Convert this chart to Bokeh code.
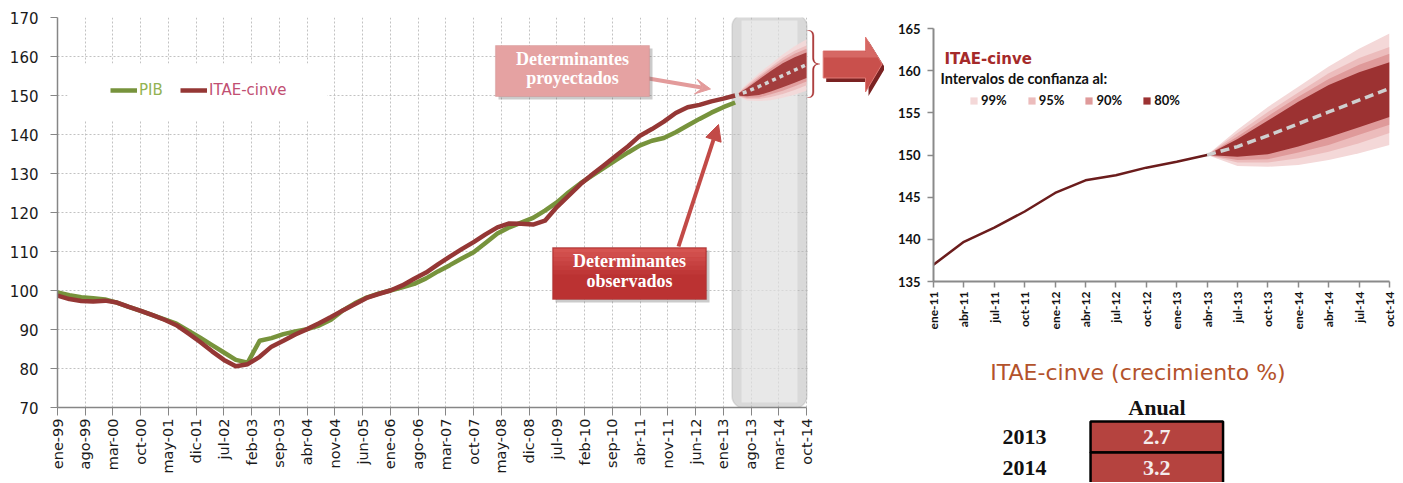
import math
from bokeh.plotting import figure
from bokeh.models import (Range1d, FixedTicker, Legend, LegendItem, BoxAnnotation, Label,
                          Arrow, NormalHead, VeeHead, ColumnDataSource)
from bokeh.layouts import row, column
from bokeh.embed import file_html
from bokeh.resources import INLINE
from bokeh.core.properties import value

# ---------------- data ----------------
# month index: 0 = ene-99
left_tick_months = list(range(0, 190, 7))
left_tick_labels = ["ene-99", "ago-99", "mar-00", "oct-00", "may-01", "dic-01", "jul-02",
                    "feb-03", "sep-03", "abr-04", "nov-04", "jun-05", "ene-06", "ago-06",
                    "mar-07", "oct-07", "may-08", "dic-08", "jul-09", "feb-10", "sep-10",
                    "abr-11", "nov-11", "jun-12", "ene-13", "ago-13", "mar-14", "oct-14"]

quarter_months = list(range(0, 172, 3))
pib = [99.5, 98.8, 98.3, 98.0, 97.7, 96.9, 95.8, 94.8, 93.7, 92.6,
       91.5, 89.7, 87.9, 86.0, 84.1, 82.2, 81.5, 87.1, 87.8, 88.8,
       89.5, 90.1, 91.0, 92.5, 94.9, 96.7, 98.2, 99.2, 100.0, 100.8,
       101.7, 103.1, 104.9, 106.5, 108.2, 109.8, 112.2, 114.6, 116.2, 117.4,
       118.6, 120.5, 122.6, 125.2, 127.5, 129.5, 131.5, 133.5, 135.4, 137.2,
       138.4, 139.1, 140.6, 142.3, 144.0, 145.6, 147.0, 148.2]
itae = [98.7, 97.8, 97.3, 97.2, 97.4, 96.9, 95.8, 94.8, 93.7, 92.5,
        91.1, 89.0, 86.8, 84.4, 82.2, 80.6, 81.1, 83.0, 85.6, 87.1,
        88.7, 90.1, 91.6, 93.2, 94.9, 96.5, 98.1, 99.1, 100.0, 101.3,
        103.0, 104.6, 106.7, 108.7, 110.6, 112.4, 114.4, 116.2, 117.2, 117.1,
        116.9, 117.9, 121.4, 124.3, 127.3, 129.8, 132.2, 134.6, 137.0, 139.7,
        141.4, 143.3, 145.5, 147.0, 147.6, 148.5, 149.2, 150.0]

fan_months = [171, 174, 177, 180, 183, 186, 189]
fan_center = [150.0, 151.0, 152.3, 153.7, 155.1, 156.5, 157.9]
band_labels = ["99%", "95%", "90%", "80%"]
band_upper = {
    "99%": [150.0, 153.0, 155.7, 158.1, 160.5, 162.6, 164.4],
    "95%": [150.0, 152.6, 155.1, 157.4, 159.7, 161.5, 162.8],
    "90%": [150.0, 152.2, 154.6, 156.9, 159.0, 160.7, 162.0],
    "80%": [150.0, 151.9, 154.1, 156.3, 158.3, 159.8, 161.0],
}
band_lower = {
    "99%": [150.0, 148.7, 148.6, 148.8, 149.4, 150.2, 151.2],
    "95%": [150.0, 149.1, 149.1, 149.6, 150.4, 151.4, 152.6],
    "90%": [150.0, 149.4, 149.5, 150.3, 151.2, 152.4, 153.6],
    "80%": [150.0, 149.8, 150.1, 151.0, 152.1, 153.3, 154.5],
}
band_colors = {"99%": "#f4d8d8", "95%": "#ecbcbc", "90%": "#df9a9a", "80%": "#9c3232"}

right_tick_months = list(range(144, 190, 3))
right_tick_labels = ["ene-11", "abr-11", "jul-11", "oct-11", "ene-12", "abr-12", "jul-12",
                     "oct-12", "ene-13", "abr-13", "jul-13", "oct-13", "ene-14", "abr-14",
                     "jul-14", "oct-14"]

years = ["2013", "2014"]
growth = [2.7, 3.2]

# ---------------- left chart ----------------
# page layout: frame x 57..884 (axis drawn only to 806 = oct-14), y 17..407
LW, LH = 884, 482
PXM = (806 - 57) / 189.0           # pixels per month
XEND = 189 + (884 - 806) / PXM
p = figure(width=LW, height=LH, x_range=Range1d(0, XEND), y_range=Range1d(70, 170),
           output_backend="svg", toolbar_location=None,
           min_border_left=57, min_border_right=0, min_border_top=17, min_border_bottom=75)
p.outline_line_color = None
p.background_fill_color = "white"

def lx(px):
    return (px - 57) / PXM

def ly(py):
    return 170 - (py - 17) * 100.0 / 390

xt = FixedTicker(ticks=left_tick_months)
yt = FixedTicker(ticks=list(range(70, 171, 10)))
p.xaxis.ticker = xt
p.yaxis.ticker = yt
p.xgrid.ticker = xt
p.ygrid.ticker = yt
p.xaxis.bounds = (0, 189)
p.xaxis.major_label_overrides = {m: s for m, s in zip(left_tick_months, left_tick_labels)}
p.xaxis.major_label_orientation = math.pi / 2
p.axis.minor_tick_line_color = None
p.axis.major_tick_in = 0
p.xaxis.major_tick_out = 8
p.yaxis.major_tick_out = 7
p.xaxis.major_label_standoff = 3
p.yaxis.major_label_standoff = 12
p.axis.axis_line_color = "#868686"
p.axis.axis_line_width = 1.5
p.axis.major_tick_line_color = "#868686"
p.axis.major_label_text_font = "DejaVu Sans"
p.xaxis.major_label_text_font_size = "14.5px"
p.yaxis.major_label_text_font_size = "15px"
p.axis.major_label_text_color = "#1a1a1a"
p.grid.grid_line_color = "#c2c2c2"
p.grid.grid_line_dash = "2 2"
p.grid.grid_line_width = 1

# hide grid to the right of the axis end
p.add_layout(BoxAnnotation(left=lx(807.5), fill_color="white", fill_alpha=1, line_alpha=0,
                           level="underlay"))

# glassy projection overlay
p.add_layout(BoxAnnotation(left=lx(731.5), right=lx(806.5), top=ly(14), bottom=ly(407.5),
                           fill_color="#bababa", fill_alpha=0.55, line_color="#a4a4a4",
                           line_width=1.5, border_radius=12, level="underlay"))
p.add_layout(BoxAnnotation(left=lx(741), right=lx(797), top=ly(20), bottom=ly(402),
                           fill_color="#ffffff", fill_alpha=0.4, line_alpha=0,
                           level="underlay"))

r_pib = p.line(quarter_months, pib, line_color="#77933c", line_width=4.5, line_join="round")
r_itae = p.line(quarter_months, itae, line_color="#953735", line_width=4.5, line_join="round")

for b in band_labels:
    p.varea(x=fan_months, y1=band_lower[b], y2=band_upper[b], fill_color=band_colors[b],
            fill_alpha=0.9)
p.line(fan_months, fan_center, line_color="#d4d4d4", line_width=3.5, line_dash="4 4")

# legend area (white)
p.add_layout(BoxAnnotation(left=lx(67), right=lx(327), top=ly(63), bottom=ly(120),
                           fill_color="white", fill_alpha=1, line_alpha=0))
leg_common = dict(orientation="horizontal", background_fill_alpha=0, border_line_alpha=0,
                  padding=0, margin=0, glyph_width=27, glyph_height=20, label_height=20,
                  label_standoff=2, label_text_font="DejaVu Sans", label_text_font_size="15px")
p.add_layout(Legend(items=[LegendItem(label="PIB", renderers=[r_pib])], location=(53, 307),
                    label_text_color="#93b352", **leg_common))
p.add_layout(Legend(items=[LegendItem(label="ITAE-cinve", renderers=[r_itae])], location=(123, 307),
                    label_text_color="#c14f72", **leg_common))

# arrows
p.add_layout(Arrow(end=VeeHead(size=15, fill_color="#e39b9b", line_color="#e39b9b"),
                   x_start=lx(648), y_start=ly(78), x_end=lx(710), y_end=ly(88.5),
                   line_color="#e39b9b", line_width=4))
p.add_layout(Arrow(end=NormalHead(size=16, fill_color="#c24a47", line_color="#c24a47"),
                   x_start=lx(678), y_start=ly(246), x_end=lx(718), y_end=ly(124),
                   line_color="#c24a47", line_width=4))

# annotation boxes
def add_box(x0, y0, x1, y1, fill, edge, hi=None):
    p.add_layout(BoxAnnotation(left=lx(x0 + 3), right=lx(x1 + 3), top=ly(y0 + 3), bottom=ly(y1 + 3),
                               fill_color="#6a6a6a", fill_alpha=0.35, line_alpha=0))
    p.add_layout(BoxAnnotation(left=lx(x0), right=lx(x1), top=ly(y0), bottom=ly(y1),
                               fill_color=fill, fill_alpha=1, line_color=edge, line_width=1.2))
    if hi:
        n = 6
        h = (y1 - y0) / 2.0 / n
        for i in range(n):
            p.add_layout(BoxAnnotation(left=lx(x0 + 1), right=lx(x1 - 1), top=ly(y0 + 1 + i * h),
                                       bottom=ly(y0 + 1 + (i + 1) * h), fill_color=hi,
                                       fill_alpha=0.6 * (1 - i / n), line_alpha=0))

add_box(495, 45, 649, 96, "#e5a2a2", "#c47a7a")
add_box(552, 247, 706, 299, "#bb3232", "#8e2222", hi="#e66a66")

def add_text(x, y, s):
    p.add_layout(Label(x=lx(x), y=ly(y), text=s, text_align="center", text_baseline="middle",
                       text_font="Liberation Serif", text_font_style="bold",
                       text_font_size="18px", text_color="white"))

add_text(572, 58.5, "Determinantes")
add_text(572, 77.5, "proyectados")
add_text(629, 260.5, "Determinantes")
add_text(629, 280, "observados")

# brace (thin filled outline)
def qbez(a, c, b, n=8):
    pts = []
    for i in range(n + 1):
        t = i / n
        pts.append(((1 - t) ** 2 * a[0] + 2 * (1 - t) * t * c[0] + t * t * b[0],
                    (1 - t) ** 2 * a[1] + 2 * (1 - t) * t * c[1] + t * t * b[1]))
    return pts

path = (qbez((807, 30), (812, 30), (812, 36)) + [(812, 57)] +
        qbez((812, 57), (812, 63.5), (818, 63.5)) +
        qbez((818, 63.5), (812, 63.5), (812, 70)) + [(812, 91)] +
        qbez((812, 91), (812, 97), (807, 97)))
outer = [(x + 1.4, y) for x, y in path]
poly = path + outer[::-1]
p.patch([lx(x) for x, _ in poly], [ly(y) for _, y in poly], fill_color="#a83232",
        line_color="#a83232", line_width=0.4)

# big arrow
arrow_pts = [(822.7, 50.5), (865, 50.5), (865, 36.5), (881.7, 63.5), (865, 91.5),
             (865, 77.5), (822.7, 77.5)]
shadow = [(x + 3, y + 4) for x, y in arrow_pts]
p.patch([lx(x) for x, _ in shadow], [ly(y) for _, y in shadow], fill_color="#7a2222",
        line_alpha=0)
p.patch([lx(x) for x, _ in arrow_pts], [ly(y) for _, y in arrow_pts], fill_color="#c9504c",
        line_color="#e07a76", line_width=1)
hi_pts = [(823.5, 51.5), (865.5, 51.5), (865.5, 38.5), (877, 57), (823.5, 57)]
p.patch([lx(x) for x, _ in hi_pts], [ly(y) for _, y in hi_pts], fill_color="#e07c78",
        fill_alpha=0.55, line_alpha=0)

# ---------------- right chart ----------------
RW, RH = 516, 340
q = figure(width=RW, height=RH, x_range=Range1d(144, 189), y_range=Range1d(135, 165),
           output_backend="svg", toolbar_location=None,
           min_border_left=49, min_border_right=11, min_border_top=28, min_border_bottom=59)
q.outline_line_color = None
q.grid.grid_line_color = None

def rx(px):
    return 144 + (px - 933) * 45.0 / (1389 - 933)

def ry(py):
    return 135 + (281 - py) * 30.0 / 253

q.xaxis.ticker = FixedTicker(ticks=right_tick_months)
q.yaxis.ticker = FixedTicker(ticks=list(range(135, 166, 5)))
q.xaxis.major_label_overrides = {m: s for m, s in zip(right_tick_months, right_tick_labels)}
q.xaxis.major_label_orientation = math.pi / 2
q.axis.minor_tick_line_color = None
q.axis.major_tick_in = 0
q.axis.major_tick_out = 6
q.xaxis.major_label_standoff = 4
q.yaxis.major_label_standoff = 7
q.axis.axis_line_color = "#8a8a8a"
q.axis.axis_line_width = 2
q.axis.major_tick_line_color = "#8a8a8a"
q.axis.major_tick_line_width = 1.5
q.axis.major_label_text_font = "Lato"
q.axis.major_label_text_font_style = "bold"
q.xaxis.major_label_text_font_size = "12px"
q.yaxis.major_label_text_font_size = "13px"
q.axis.major_label_text_color = "#111111"

band_r = {}
for b in band_labels:
    band_r[b] = q.varea(x=fan_months, y1=band_lower[b], y2=band_upper[b], fill_color=band_colors[b])
q.line(fan_months, fan_center, line_color="#cfcfcf", line_width=3.5, line_dash="9 5")
k = quarter_months.index(144)
q.line(quarter_months[k:], itae[k:], line_color="#6b1c1c", line_width=2.5, line_join="round")

q.add_layout(Label(x=rx(944), y=ry(58), text="ITAE-cinve", text_align="left",
                   text_baseline="middle", text_font="DejaVu Sans", text_font_style="bold",
                   text_font_size="15px", text_color="#a52a2a"))
q.add_layout(Label(x=rx(940), y=ry(78), text="Intervalos de confianza al:", text_align="left",
                   text_baseline="middle", text_font="Lato", text_font_style="bold",
                   text_font_size="14.5px", text_color="#111111"))
q.add_layout(Legend(items=[LegendItem(label=b, renderers=[band_r[b]]) for b in band_labels],
                    location=(36, 173), orientation="horizontal", background_fill_alpha=0,
                    border_line_alpha=0, padding=0, margin=0, glyph_width=9, glyph_height=9,
                    label_height=9, label_standoff=3, spacing=20, label_text_font="Lato",
                    label_text_font_style="bold", label_text_font_size="13px",
                    label_text_color="#111111"))

# ---------------- table ----------------
# the column aligns this frame with the chart frame above (page x 933..1389)
TW, TH = 516, 142
t = figure(width=TW, height=TH, x_range=Range1d(933, 1389), y_range=Range1d(482, 340),
           output_backend="svg", toolbar_location=None, x_axis_location=None,
           y_axis_location=None, min_border_left=49, min_border_right=11,
           min_border_top=0, min_border_bottom=0)
t.outline_line_color = None
t.grid.grid_line_color = None

t.add_layout(Label(x=1137.5, y=372, text="ITAE-cinve (crecimiento %)", text_align="center",
                   text_baseline="middle", text_font="DejaVu Sans", text_font_size="22px",
                   text_color="#b3522b"))
t.add_layout(Label(x=1156.5, y=406.5, text="Anual", text_align="center", text_baseline="middle",
                   text_font="Liberation Serif", text_font_style="bold", text_font_size="22px",
                   text_color="#111111"))
row_y = [421 + 31 * (i + 0.5) for i in range(len(years))]
src = ColumnDataSource(dict(year=years, val=["%.1f" % g for g in growth], y=row_y))
t.rect(x=1156.3, y="y", width=132.5, height=31, source=src, fill_color="#b5433f",
       line_color="black", line_width=2.5)
t.text(x=1156.3, y="y", text="val", source=src, text_align="center", text_baseline="middle",
       text_font=value("Liberation Serif"), text_font_style="bold", text_font_size="22px",
       text_color="#f4ecec")
t.text(x=1024, y="y", text="year", source=src, text_align="center", text_baseline="middle",
       text_font=value("Liberation Serif"), text_font_style="bold", text_font_size="22px",
       text_color="#111111")

layout = row(p, column(q, t))
open("out.html", "w").write(file_html(layout, INLINE))
